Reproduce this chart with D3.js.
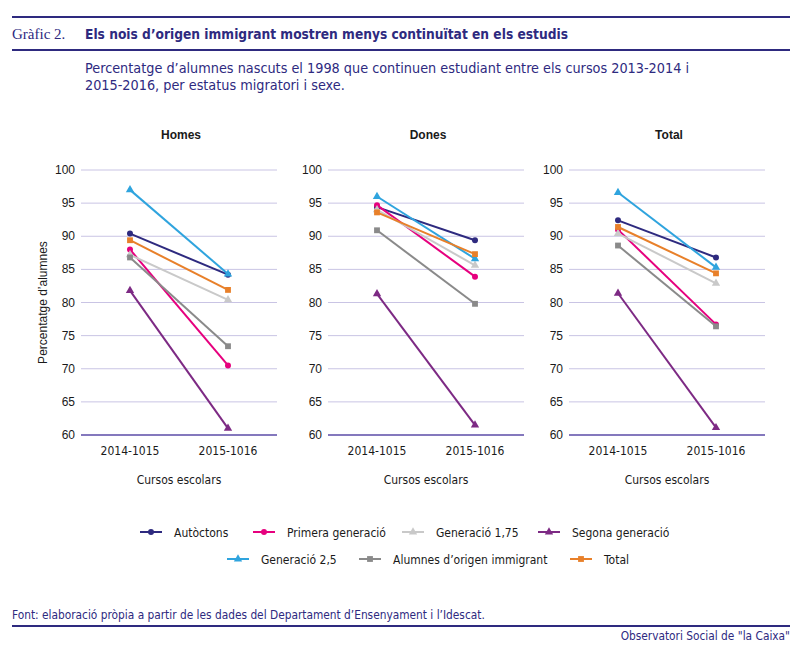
<!DOCTYPE html>
<meta charset="utf-8">
<head>
  <title>Gràfic 2</title>
</head>
<style>
body { margin: 0; background: #fff; }
text { font-family: "Liberation Sans", Arial, sans-serif; fill: #1a1a1a; }
.narrow { font-family: "Liberation Sans Narrow", "DejaVu Sans Condensed", "Liberation Sans", sans-serif; }
.navy { fill: #2e2a7f; }
.grid line { stroke: #c9c4e4; stroke-width: 1; }
</style>
<body>
<svg width="800" height="650"></svg>
<script src="https://cdnjs.cloudflare.com/ajax/libs/d3/7.8.5/d3.min.js"></script>
<script>

// data
var courses = ["2014-1015", "2015-1016"];
var panels = ["Homes", "Dones", "Total"];
var yTicks = [60, 65, 70, 75, 80, 85, 90, 95, 100];

var seriesNames = ["Autòctons", "Primera generació", "Generació 1,75", "Segona generació",
                   "Generació 2,5", "Alumnes d\u2019origen immigrant", "Total"];
var seriesColors = ["#2e2a7f", "#e6007e", "#c9c9c9", "#7d2a84", "#2fa4de", "#8a8a8a", "#e8802a"];
var seriesShapes = ["circle", "circle", "triangle", "triangle", "triangle", "square", "square"];

// values per panel: [2014-1015, 2015-1016]
var autoctons   = [[90.4, 84.2], [94.4, 89.4], [92.4, 86.8]];
var primera     = [[88.0, 70.5], [94.7, 83.9], [91.0, 76.7]];
var gen175      = [[87.2, 80.4], [94.0, 85.6], [90.4, 82.9]];
var segona      = [[81.8, 61.0], [81.3, 61.5], [81.4, 61.1]];
var gen25       = [[97.0, 84.3], [96.0, 86.6], [96.6, 85.3]];
var immigrant   = [[86.8, 73.4], [90.9, 79.8], [88.6, 76.4]];
var total       = [[89.4, 81.9], [93.6, 87.3], [91.4, 84.4]];
var seriesValues = [autoctons, primera, gen175, segona, gen25, immigrant, total];

var svg = d3.select('svg');
var navy = "#2e2a7f";

// header
svg.append('line').attr('x1', 12).attr('x2', 790).attr('y1', 17).attr('y2', 17)
  .attr('stroke', navy).attr('stroke-width', 2);
svg.append('line').attr('x1', 12).attr('x2', 790).attr('y1', 50).attr('y2', 50)
  .attr('stroke', navy).attr('stroke-width', 2);
svg.append('text').attr('x', 12).attr('y', 39)
  .style('font-family', '"Liberation Serif", "DejaVu Serif", serif')
  .style('font-size', '15px').attr('class', 'navy').text('Gràfic 2.');
svg.append('text').attr('x', 85).attr('y', 39).attr('class', 'narrow navy')
  .style('font-size', '14.5px').style('font-weight', 'bold')
  .attr('textLength', 483).attr('lengthAdjust', 'spacingAndGlyphs')
  .text('Els nois d\u2019origen immigrant mostren menys continuïtat en els estudis');
svg.append('text').attr('x', 85).attr('y', 73).attr('class', 'narrow navy')
  .style('font-size', '14.3px')
  .text('Percentatge d\u2019alumnes nascuts el 1998 que continuen estudiant entre els cursos 2013-2014 i');
svg.append('text').attr('x', 85).attr('y', 90).attr('class', 'narrow navy')
  .style('font-size', '14.3px')
  .text('2015-2016, per estatus migratori i sexe.');

// panels
var panelLeft = [81, 328, 569];
var panelWidth = 196;
var y = d3.scaleLinear().domain([60, 100]).range([435, 170]);

var symbolType = { circle: d3.symbolCircle, triangle: d3.symbolTriangle, square: d3.symbolSquare };
var symbolSize = { circle: 28, triangle: 30, square: 34 };

panels.forEach(function(name, p) {
  var g = svg.append('g').attr('transform', 'translate(' + panelLeft[p] + ',0)');
  var x = d3.scalePoint().domain(courses).range([0, panelWidth]).padding(0.5);

  g.append('g').attr('class', 'grid')
    .selectAll('line').data(yTicks.filter(function(t) { return t > 60; }))
    .enter().append('line')
    .attr('x1', 0).attr('x2', panelWidth)
    .attr('y1', function(d) { return y(d); }).attr('y2', function(d) { return y(d); });

  g.append('line').attr('x1', 0).attr('x2', panelWidth).attr('y1', y(60)).attr('y2', y(60))
    .attr('stroke', '#8478bd').attr('stroke-width', 2);

  g.selectAll('.ytick').data(yTicks).enter().append('text')
    .attr('class', 'ytick')
    .attr('x', -6).attr('y', function(d) { return y(d) + 4; })
    .attr('text-anchor', 'end').style('font-size', '12px')
    .text(function(d) { return d; });

  g.selectAll('.xtick').data(courses).enter().append('text')
    .attr('class', 'xtick narrow')
    .attr('x', function(d) { return x(d); }).attr('y', 455)
    .attr('text-anchor', 'middle').style('font-size', '12px')
    .text(function(d) { return d; });

  g.append('text').attr('class', 'narrow')
    .attr('x', panelWidth / 2).attr('y', 484).attr('text-anchor', 'middle')
    .style('font-size', '12px').text('Cursos escolars');

  g.append('text')
    .attr('x', panelWidth / 2 + 2).attr('y', 139).attr('text-anchor', 'middle')
    .style('font-size', '12px').style('font-weight', 'bold').text(name);

  var line = d3.line()
    .x(function(d, i) { return x(courses[i]); })
    .y(function(d) { return y(d); });

  seriesValues.forEach(function(s, k) {
    var vals = s[p];
    g.append('path').attr('d', line(vals))
      .attr('fill', 'none').attr('stroke', seriesColors[k]).attr('stroke-width', 2);
    g.selectAll('.m' + k).data(vals).enter().append('path')
      .attr('class', 'm' + k)
      .attr('transform', function(d, i) { return 'translate(' + x(courses[i]) + ',' + y(d) + ')'; })
      .attr('d', d3.symbol().type(symbolType[seriesShapes[k]]).size(symbolSize[seriesShapes[k]]))
      .attr('fill', seriesColors[k]);
  });
});

svg.append('text')
  .attr('transform', 'translate(47,' + y(80) + ') rotate(-90)')
  .attr('text-anchor', 'middle').style('font-size', '12px')
  .text('Percentatge d\u2019alumnes');

// legend
var legendPos = [[140, 532], [253, 532], [402, 532], [538, 532], [227, 559], [359, 559], [570, 559]];
seriesNames.forEach(function(n, k) {
  var lg = svg.append('g').attr('transform', 'translate(' + legendPos[k][0] + ',' + legendPos[k][1] + ')');
  lg.append('line').attr('x1', 0).attr('x2', 22).attr('stroke', seriesColors[k]).attr('stroke-width', 2);
  lg.append('path').attr('transform', 'translate(11,0)')
    .attr('d', d3.symbol().type(symbolType[seriesShapes[k]]).size(symbolSize[seriesShapes[k]]))
    .attr('fill', seriesColors[k]);
  lg.append('text').attr('class', 'narrow').attr('x', 34).attr('y', 4.5)
    .style('font-size', '12px').text(n);
});

// footer
svg.append('text').attr('x', 12).attr('y', 619).attr('class', 'narrow navy')
  .style('font-size', '11.8px')
  .text('Font: elaboració pròpia a partir de les dades del Departament d\u2019Ensenyament i l\u2019Idescat.');
svg.append('line').attr('x1', 12).attr('x2', 790).attr('y1', 626).attr('y2', 626)
  .attr('stroke', navy).attr('stroke-width', 2);
svg.append('text').attr('x', 790).attr('y', 640).attr('text-anchor', 'end').attr('class', 'narrow navy')
  .style('font-size', '11.8px').text('Observatori Social de "la Caixa"');

</script>
</body>
</html>
